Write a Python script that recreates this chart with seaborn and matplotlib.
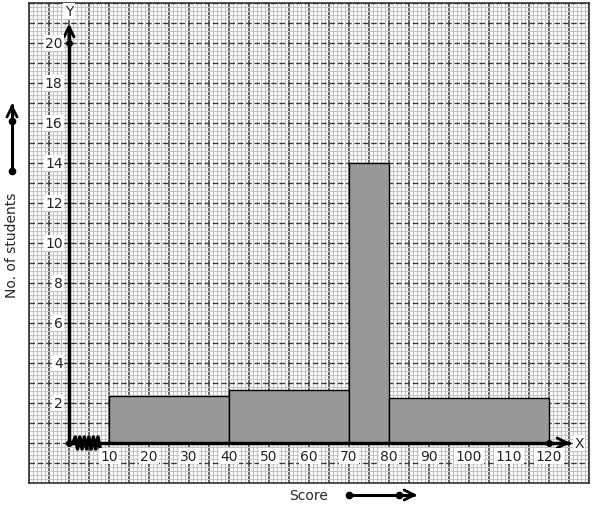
import numpy as np
import matplotlib.pyplot as plt
import seaborn as sns
from matplotlib.ticker import MultipleLocator

# class intervals and adjusted heights (frequency density)
edges = [10, 40, 70, 80, 120]
heights = [2.33, 2.67, 14, 2.25]
x_ticks = [10, 20, 30, 40, 50, 60, 70, 80, 90, 100, 110, 120]
y_ticks = [2, 4, 6, 8, 10, 12, 14, 16, 18, 20]

mids = [(a + b) / 2 for a, b in zip(edges[:-1], edges[1:])]

sns.set_style("white")
plt.rcParams["font.family"] = ["DejaVu Sans"]

fig = plt.figure(figsize=(5.94, 5.10), dpi=100)
ax = fig.add_axes([29 / 594, 26 / 510, 560 / 594, 480 / 510])
ax.set_xlim(-10, 130)
ax.set_ylim(-2, 22)

# graph paper
ax.xaxis.set_minor_locator(MultipleLocator(1))
ax.yaxis.set_minor_locator(MultipleLocator(0.2))
ax.xaxis.set_major_locator(MultipleLocator(5))
ax.yaxis.set_major_locator(MultipleLocator(1))
ax.grid(which="minor", color="#c4c4c4", lw=0.8)
ax.grid(which="major", axis="x", color="#3a3a3a", lw=1.1)
ax.grid(which="major", axis="y", color="#3a3a3a", lw=1.0, ls=(0, (4, 2)))
ax.set_axisbelow(True)
ax.tick_params(which="both", length=0, labelbottom=False, labelleft=False)
for s in ax.spines.values():
    s.set_color("#333333")
    s.set_linewidth(1.2)

sns.histplot(x=mids, weights=heights, bins=edges, stat="count",
             color="#999999", alpha=1, edgecolor="black", linewidth=1, ax=ax)
ax.set_xlabel("")
ax.set_ylabel("")

# axes with arrows
ax.plot([0, 0], [0, 20.8], color="black", lw=2.5, zorder=5)
ax.plot([0, 125], [0, 0], color="black", lw=2.5, zorder=5)
ax.annotate("", xy=(0, 21.1), xytext=(0, 20.0),
            arrowprops=dict(arrowstyle="->", lw=2, color="black", mutation_scale=18), zorder=6)
ax.annotate("", xy=(126, 0), xytext=(122, 0),
            arrowprops=dict(arrowstyle="->", lw=2, color="black", mutation_scale=18), zorder=6)
ax.plot([0, 0, 120], [0, 20, 0], "o", color="black", ms=4, zorder=7)
ax.text(0, 21.6, "Y", ha="center", va="center", fontsize=10,
        bbox=dict(fc="white", ec="none", pad=1), zorder=8)
ax.text(127.5, 0, "X", ha="center", va="center", fontsize=10,
        bbox=dict(fc="white", ec="none", pad=1), zorder=8)

# zigzag break on x axis
zx = np.linspace(1, 7.8, 13)
zy = np.array([0.3 if i % 2 else -0.3 for i in range(13)])
zy[0] = 0
ax.plot(zx, zy, color="black", lw=2.5, zorder=6)

for t in x_ticks:
    ax.text(t, -0.65, str(t), ha="center", va="center", fontsize=10, color="#222222",
            bbox=dict(fc="white", ec="none", pad=1), zorder=8)
for t in y_ticks:
    ax.text(-1.6, t, str(t), ha="right", va="center", fontsize=10, color="#222222",
            bbox=dict(fc="white", ec="none", pad=1), zorder=8)

# outside labels with arrows
fig.text(12 / 594, 1 - 245 / 510, "No. of students", rotation=90, ha="center", va="center", fontsize=10)
fig.text(309 / 594, 1 - 496 / 510, "Score", ha="center", va="center", fontsize=10)
fig.add_artist(plt.Line2D([12 / 594, 12 / 594], [1 - 172 / 510, 1 - 106 / 510], color="black", lw=2.2))
fig.add_artist(plt.Line2D([12 / 594, 12 / 594], [1 - 172 / 510, 1 - 122 / 510], color="black",
                          marker="o", ms=4.5, lw=0))
ax.annotate("", xy=(12 / 594, 1 - 102 / 510), xytext=(12 / 594, 1 - 112 / 510),
            xycoords="figure fraction", textcoords="figure fraction",
            arrowprops=dict(arrowstyle="->", lw=2, color="black", mutation_scale=18), annotation_clip=False)
fig.add_artist(plt.Line2D([349 / 594, 414 / 594], [1 - 496 / 510, 1 - 496 / 510], color="black", lw=2.2))
fig.add_artist(plt.Line2D([349 / 594, 399 / 594], [1 - 496 / 510, 1 - 496 / 510], color="black",
                          marker="o", ms=4.5, lw=0))
ax.annotate("", xy=(420 / 594, 1 - 496 / 510), xytext=(408 / 594, 1 - 496 / 510),
            xycoords="figure fraction", textcoords="figure fraction",
            arrowprops=dict(arrowstyle="->", lw=2, color="black", mutation_scale=18), annotation_clip=False)

fig.savefig("out.png", dpi=100)
